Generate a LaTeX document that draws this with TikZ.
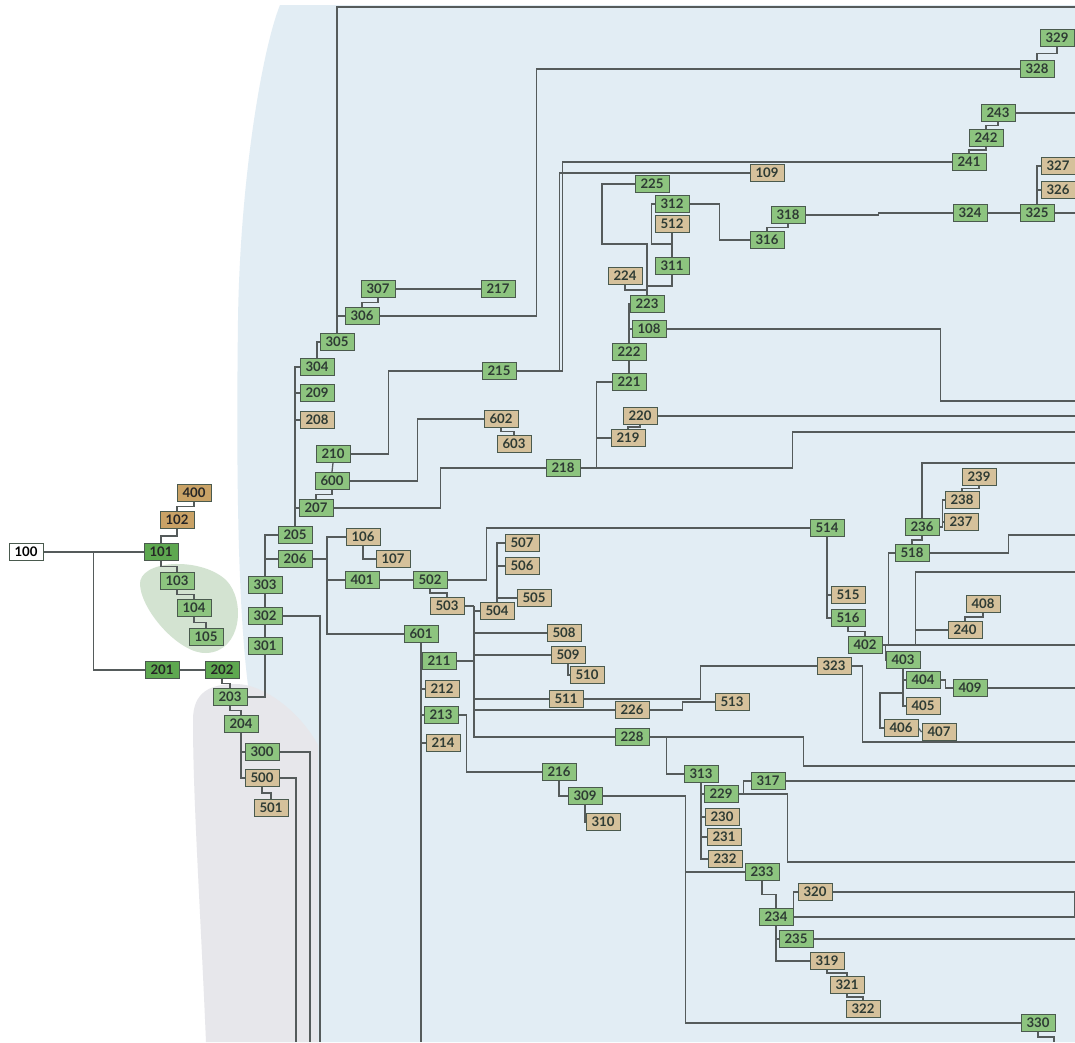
\documentclass[tikz,border=0pt]{standalone}
\usepackage{fontspec}
\setmainfont{Lato}
\usetikzlibrary{calc}
\definecolor{bgblue}{HTML}{E2EDF4}
\definecolor{bggray}{HTML}{E7E7EB}
\definecolor{bggreen}{HTML}{D3E3D1}
\definecolor{gfill}{HTML}{8DC47F}
\definecolor{dgfill}{HTML}{5EA850}
\definecolor{tfill}{HTML}{D5C19B}
\definecolor{dtfill}{HTML}{C9A266}
\definecolor{bord}{HTML}{4A5A4E}
\definecolor{wire}{HTML}{555B5B}
\definecolor{txt}{HTML}{2E3B34}
\newcommand{\ebw}[2]{\draw (#1) |- ($(#1)!.5!(#2)$) -| (#2);}
\pgfdeclarelayer{bglayer}
\pgfdeclarelayer{wirelayer}
\pgfsetlayers{bglayer,wirelayer,main}
\begin{document}
\begin{tikzpicture}[x=1pt,y=-1pt,
  base/.style={draw=bord, line width=0.9pt, minimum width=34pt, minimum height=17pt, inner sep=0pt,
    font=\fontsize{13.2}{13}\selectfont\bfseries, text=txt},
  g/.style={base, fill=gfill},
  dg/.style={base, fill=dgfill, text=black!85},
  t/.style={base, fill=tfill},
  dt/.style={base, fill=dtfill, text=black!85},
  w/.style={base, fill=white, text=black}]
\useasboundingbox (0,0) rectangle (1075,1042);
\clip (0,0) rectangle (1075,1042);

% backgrounds
\begin{pgfonlayer}{bglayer}
\fill[white] (0,0) rectangle (1075,1042);
\fill[bgblue] (1075,5) -- (280,5) .. controls (262,50) and (240,180) .. (238,320)
  .. controls (236,480) and (238,620) .. (250,700) -- (250,1042) -- (1075,1042) -- cycle;
\fill[bggray] (193,720) .. controls (193,692) and (210,684) .. (236,684)
  .. controls (264,684) and (300,712) .. (318,745) -- (318,1042) -- (206,1042)
  .. controls (200,900) and (193,800) .. (193,720) -- cycle;
\fill[bggreen] (140,585) .. controls (138,560) and (200,556) .. (226,580)
  .. controls (246,600) and (242,652) .. (206,653) .. controls (180,654) and (142,612) .. (140,585) -- cycle;
\end{pgfonlayer}

% nodes
\node[w] (n100) at (26,552) {100};
\node[dg] (n101) at (161,552) {101};
\node[dg] (n201) at (162,670) {201};
\node[dg] (n202) at (222,670) {202};
\node[dt] (n102) at (177,520) {102};
\node[dt] (n400) at (194,493) {400};
\node[g] (n103) at (177,581) {103};
\node[g] (n104) at (194,608) {104};
\node[g] (n105) at (206,637) {105};
\node[g] (n203) at (230,697) {203};
\node[g] (n204) at (241,724) {204};
\node[g] (n300) at (262,752) {300};
\node[t] (n500) at (262,778) {500};
\node[t] (n501) at (271,808) {501};
\node[g] (n301) at (265,646) {301};
\node[g] (n302) at (265,616) {302};
\node[g] (n303) at (265,585) {303};
\node[g] (n205) at (295,535) {205};
\node[g] (n206) at (295,559) {206};
\node[g] (n207) at (316,508) {207};
\node[g] (n600) at (332,481) {600};
\node[g] (n210) at (333,454) {210};
\node[t] (n208) at (317,420) {208};
\node[g] (n209) at (317,393) {209};
\node[g] (n304) at (317,367) {304};
\node[g] (n305) at (337,342) {305};
\node[g] (n306) at (362,316) {306};
\node[g] (n307) at (378,289) {307};
\node[g] (n217) at (498,289) {217};
\node[g] (n215) at (499,371) {215};
\node[t] (n602) at (501,419) {602};
\node[t] (n603) at (514,444) {603};
\node[g] (n218) at (563,468) {218};
\node[t] (n106) at (363,537) {106};
\node[t] (n107) at (393,559) {107};
\node[g] (n401) at (362,580) {401};
\node[g] (n502) at (430,580) {502};
\node[t] (n503) at (447,606) {503};
\node[t] (n504) at (497,611) {504};
\node[t] (n505) at (534,598) {505};
\node[t] (n507) at (522,543) {507};
\node[t] (n506) at (522,566) {506};
\node[t] (n508) at (564,633) {508};
\node[t] (n509) at (568,655) {509};
\node[t] (n510) at (587,675) {510};
\node[t] (n511) at (566,699) {511};
\node[g] (n601) at (421,634) {601};
\node[g] (n211) at (439,661) {211};
\node[t] (n212) at (442,689) {212};
\node[g] (n213) at (441,715) {213};
\node[t] (n214) at (443,743) {214};
\node[t] (n226) at (632,710) {226};
\node[t] (n513) at (732,702) {513};
\node[g] (n228) at (632,737) {228};
\node[g] (n216) at (559,772) {216};
\node[g] (n309) at (585,796) {309};
\node[t] (n310) at (603,822) {310};
\node[g] (n313) at (701,774) {313};
\node[g] (n229) at (721,794) {229};
\node[t] (n230) at (722,817) {230};
\node[t] (n231) at (724,837) {231};
\node[t] (n232) at (725,859) {232};
\node[g] (n233) at (762,872) {233};
\node[g] (n234) at (776,917) {234};
\node[g] (n235) at (796,939) {235};
\node[t] (n319) at (827,961) {319};
\node[t] (n321) at (847,985) {321};
\node[t] (n322) at (863,1009) {322};
\node[t] (n320) at (815,892) {320};
\node[g] (n317) at (768,781) {317};
\node[g] (n330) at (1038,1023) {330};
\node[t] (n323) at (834,666) {323};
\node[g] (n514) at (827,528) {514};
\node[t] (n515) at (848,595) {515};
\node[g] (n516) at (848,618) {516};
\node[g] (n402) at (865,645) {402};
\node[g] (n403) at (903,660) {403};
\node[g] (n404) at (923,680) {404};
\node[g] (n409) at (970,688) {409};
\node[t] (n405) at (923,706) {405};
\node[t] (n406) at (901,728) {406};
\node[t] (n407) at (939,732) {407};
\node[t] (n240) at (965,630) {240};
\node[t] (n408) at (983,604) {408};
\node[g] (n518) at (912,553) {518};
\node[g] (n236) at (922,527) {236};
\node[t] (n237) at (961,522) {237};
\node[t] (n238) at (962,500) {238};
\node[t] (n239) at (979,477) {239};
\node[g] (n225) at (652,184) {225};
\node[t] (n109) at (767,173) {109};
\node[g] (n312) at (672,204) {312};
\node[t] (n512) at (672,224) {512};
\node[g] (n311) at (672,266) {311};
\node[t] (n224) at (625,276) {224};
\node[g] (n223) at (647,304) {223};
\node[g] (n108) at (649,329) {108};
\node[g] (n222) at (629,352) {222};
\node[g] (n221) at (629,382) {221};
\node[t] (n220) at (640,416) {220};
\node[t] (n219) at (628,438) {219};
\node[g] (n318) at (788,215) {318};
\node[g] (n316) at (767,240) {316};
\node[g] (n324) at (970,213) {324};
\node[g] (n325) at (1037,213) {325};
\node[t] (n326) at (1058,190) {326};
\node[t] (n327) at (1058,166) {327};
\node[g] (n241) at (969,162) {241};
\node[g] (n242) at (986,138) {242};
\node[g] (n243) at (998,113) {243};
\node[g] (n328) at (1037,69) {328};
\node[g] (n329) at (1057,38) {329};

% free ends and junctions
\coordinate (b300) at (310,1042);
\coordinate (b500) at (296,1042);
\coordinate (b302) at (320,1042);
\coordinate (b601) at (421,1042);
\coordinate (b330) at (1054,1042);
\coordinate (e305) at (1075,7);
\coordinate (e329) at (1075,38);
\coordinate (e243) at (1075,113);
\coordinate (e325) at (1075,213);
\coordinate (e108) at (1075,401);
\coordinate (e220) at (1075,416);
\coordinate (e218) at (1075,432);
\coordinate (e236) at (1075,463);
\coordinate (e518) at (1075,535);
\coordinate (e402b) at (1075,572);
\coordinate (e402) at (1075,645);
\coordinate (e409) at (1075,688);
\coordinate (e323) at (1075,742);
\coordinate (e228) at (1075,766);
\coordinate (e317) at (1075,781);
\coordinate (e229) at (1075,862);
\coordinate (e320) at (1075,892);
\coordinate (e234) at (1075,917);
\coordinate (e235) at (1075,939);
\coordinate (j206) at (327,559);
\coordinate (j503) at (474,606);
\coordinate (j406) at (880,693);
\coordinate (k225) at (602,244);

% connectors
\begin{pgfonlayer}{wirelayer}
\begin{scope}[color=wire, line width=1.3pt]
\draw (n100.east) -- (n101.west);
\draw (n100.east) -- ++(50,0) |- (n201.west);
\draw (n201.east) -- (n202.west);
\ebw{n101.north}{n102.south}
\ebw{n102.north}{n400.south}
\ebw{n101.south}{n103.north}
\ebw{n103.south}{n104.north}
\ebw{n104.south}{n105.north}
\ebw{n202.south}{n203.north}
\ebw{n203.south}{n204.north}
\draw (n204.south) |- (n300.west);
\draw (n204.south) |- (n500.west);
\ebw{n500.south}{n501.north}
\draw (n300.east) -| (b300);
\draw (n500.east) -| (b500);
\draw (n302.east) -| (b302);
\draw (n203.east) -| (n301.south);
\draw (n301.north) -- (n302.south);
\draw (n302.north) -- (n303.south);
\draw (n303.north) |- (n205.west);
\draw (n303.north) |- (n206.west);
\draw (n205.north) |- (n207.west);
\draw (n205.north) |- (n208.west);
\draw (n205.north) |- (n209.west);
\draw (n205.north) |- (n304.west);
\draw (n304.north) |- (n305.west);
\draw (n305.north) |- (e305);
\draw (n305.north) |- (n306.west);
\ebw{n306.north}{n307.south}
\draw (n307.east) -- (n217.west);
\draw (n306.east) -- ++(157,0) |- (n328.west);
\ebw{n328.north}{n329.south}
\draw (n329.east) -- (e329);
\draw (n210.south) -- (n600.north);
\ebw{n600.south}{n207.north}
\draw (n210.east) -- ++(38,0) |- (n215.west);
\draw (n215.east) -- ++(46,0) |- (n241.west);
\draw (n215.east) -- ++(43,0) |- (n109.west);
\ebw{n241.north}{n242.south}
\ebw{n242.north}{n243.south}
\draw (n243.east) -- (e243);
\draw (n600.east) -- ++(68,0) |- (n602.west);
\ebw{n602.south}{n603.north}
\draw (n207.east) -- ++(107,0) |- (n218.west);
\draw (n218.east) -- ++(212,0) |- (e218);
\draw (n218.east) -- ++(16,0) |- (n221.west);
\draw (n218.east) -- ++(16,0) |- (n219.west);
\ebw{n219.north}{n220.south}
\draw (n220.east) -- (e220);
\draw (n221.north) -- (n222.south);
\draw (n222.north) |- (n223.west);
\draw (n222.north) |- (n108.west);
\draw (n108.east) -- ++(274,0) |- (e108);
\ebw{n223.north}{n224.south}
\draw (n223.north) |- (k225) |- (n225.west);
\draw (n311.south) -- ++(0,11) -| (n223.north);
\draw (n512.south) -- (n311.north);
\draw (n312.west) -- ++(-3,0) |- ($(n311.north)+(0,-13)$) -| (n311.north);
\draw (n312.east) -- ++(30,0) |- (n316.west);
\ebw{n316.north}{n318.south}
\draw (n318.east) -- ++(73,0) |- (n324.west);
\draw (n324.east) -- (n325.west);
\draw (n325.east) -- (e325);
\draw (n325.north) |- (n326.west);
\draw (n325.north) |- (n327.west);
\draw (n206.east) -- (j206);
\draw (j206) |- (n106.west);
\draw (j206) |- (n401.west);
\draw (j206) |- (n601.west);
\draw (n106.south) |- (n107.west);
\draw (n401.east) -- (n502.west);
\draw (n502.east) -- ++(39,0) |- (n514.west);
\ebw{n502.south}{n503.north}
\draw (n503.east) -- (j503);
\draw (j503) |- (n504.west);
\draw (j503) |- (n508.west);
\draw (j503) |- (n509.west);
\draw (j503) |- (n511.west);
\draw (j503) |- (n226.west);
\draw (j503) |- (n228.west);
\draw (n211.east) -- (n211.east -| j503);
\draw (n504.north) |- (n507.west);
\draw (n504.north) |- (n506.west);
\draw (n504.north) |- (n505.west);
\draw (n509.south) |- (n510.west);
\draw (n511.east) -- ++(117,0) |- (n323.west);
\draw (n226.east) -- ++(33,0) |- (n513.west);
\draw (n228.east) -- ++(17,0) |- (n313.west);
\draw (n228.east) -- ++(154,0) |- (e228);
\draw (n601.south) -- (b601);
\draw (n601.south) |- (n211.west);
\draw (n601.south) |- (n212.west);
\draw (n601.south) |- (n213.west);
\draw (n601.south) |- (n214.west);
\draw (n213.east) -- ++(8,0) |- (n216.west);
\draw (n216.south) |- (n309.west);
\draw (n309.south) |- (n310.west);
\draw (n309.east) -- ++(83,0) |- (n330.west);
\draw (n309.east) -- ++(83,0) |- (n233.west);
\draw (n313.south) |- (n229.west);
\draw (n313.south) |- (n230.west);
\draw (n313.south) |- (n231.west);
\draw (n313.south) |- (n232.west);
\draw (n229.east) -- ++(5,0) |- (n317.west);
\draw (n317.east) -- (e317);
\draw (n229.east) -- ++(49,0) |- (e229);
\ebw{n233.south}{n234.north}
\draw (n234.east) -- (e234);
\draw (n234.east) |- (n320.west);
\draw (n320.east) -- (e320);
\draw (e320) -- (e234);
\draw (n234.south) |- (n235.west);
\draw (n234.south) |- (n319.west);
\draw (n235.east) -- (e235);
\ebw{n319.south}{n321.north}
\ebw{n321.south}{n322.north}
\ebw{n330.south}{b330}
\draw (n323.east) -- ++(11,0) |- (e323);
\draw (n514.south) |- (n515.west);
\draw (n514.south) |- (n516.west);
\ebw{n516.south}{n402.north}
\draw (n402.east) -- ++(3,0) |- (n403.west);
\draw (n402.east) -- (e402);
\draw (n402.east) -- ++(6,0) |- (n518.west);
\draw (n402.east) -- ++(33,0) |- (e402b);
\draw (n402.east) -- ++(33,0) |- (n240.west);
\ebw{n240.north}{n408.south}
\draw (n403.south) |- (n404.west);
\draw (n403.south) |- (n405.west);
\draw (n403.south) |- (j406) |- (n406.west);
\draw (n406.east) -- (n407.west);
\draw (n404.east) -- ++(5,0) |- (n409.west);
\draw (n409.east) -- (e409);
\ebw{n518.north}{n236.south}
\draw (n518.east) -- ++(79,0) |- (e518);
\draw (n236.north) |- (e236);
\draw (n236.east) -- ++(3,0) |- (n237.west);
\draw (n236.east) -- ++(3,0) |- (n238.west);
\ebw{n238.north}{n239.south}
\end{scope}
\end{pgfonlayer}
\end{tikzpicture}
\end{document}
